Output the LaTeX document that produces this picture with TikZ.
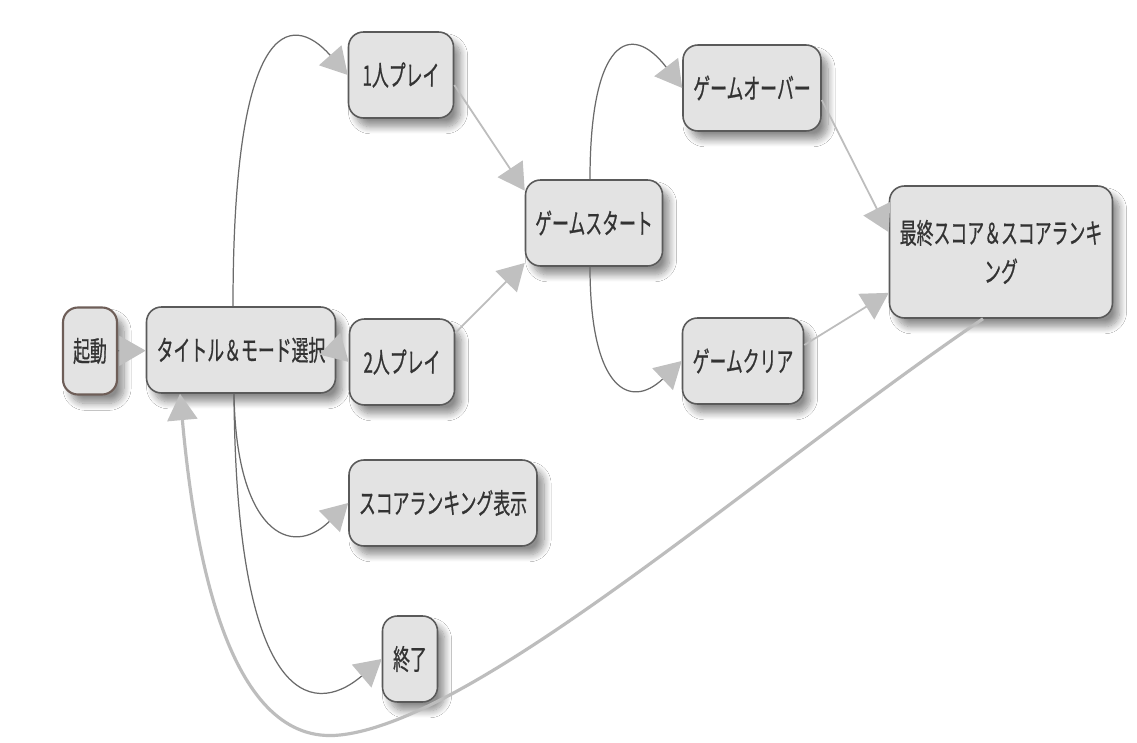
\documentclass[tikz,border=0pt]{standalone}
\usepackage{fontspec}
\newfontfamily\jp[FakeStretch=0.6,FakeBold=0.6]{Noto Sans CJK JP}
\usetikzlibrary{arrows.meta,shadows.blur}
\definecolor{boxfill}{HTML}{E3E3E3}
\definecolor{boxdraw}{HTML}{5A5A5A}
\definecolor{startdraw}{HTML}{6E5E58}
\definecolor{tipgray}{HTML}{C0C0C0}
\definecolor{darkline}{HTML}{6A6A6A}
\definecolor{lightline}{HTML}{BDBDBD}
\definecolor{txt}{HTML}{333333}
\begin{document}
\begin{tikzpicture}[x=0.02cm,y=-0.02cm,
  box/.style={draw=boxdraw, line width=0.9pt, fill=boxfill, rounded corners=8.5pt,
    inner sep=0pt, minimum height=1.72cm, font=\jp\fontsize{16}{22}\selectfont,
    text=txt, align=center,
    blur shadow={shadow xshift=4pt, shadow yshift=-5pt, shadow blur radius=4pt, shadow blur steps=10, shadow opacity=45}},
  tip/.style={-{Triangle[length=15pt,width=17pt,color=tipgray,fill=tipgray]}},
  dk/.style={tip, draw=darkline, line width=0.7pt},
  lt/.style={tip, draw=lightline, line width=1pt},
  big/.style={tip, draw=lightline, line width=1.8pt}]
\useasboundingbox[fill=white] (0,0) rectangle (1137,743);

\node[box, draw=startdraw, line width=1.2pt, minimum width=1.08cm, minimum height=1.74cm] (boot) at (90,351) {起動};
\node[box, minimum width=3.78cm] (title) at (241,350) {タイトル＆モード選択};
\node[box, minimum width=2.1cm] (p1) at (401,75) {1人プレイ};
\node[box, minimum width=2.1cm] (p2) at (402,362) {2人プレイ};
\node[box, minimum width=3.76cm] (rank) at (443,503) {スコアランキング表示};
\node[box, minimum width=1.1cm] (quit) at (410,659) {終了};
\node[box, minimum width=2.74cm] (gs) at (594,223) {ゲームスタート};
\node[box, minimum width=2.76cm] (go) at (752,88) {ゲームオーバー};
\node[box, minimum width=2.42cm] (gc) at (743,361) {ゲームクリア};
\node[box, minimum width=4.46cm, minimum height=2.64cm] (fin) at (1001,252) {最終スコア＆スコアランキ\\ング};

\draw[dk] (boot) -- (title);
\draw[dk] ([xshift=-0.16cm]title.north) .. controls (233,20) and (290,10) .. (p1.west);
\draw[lt] (title.east) -- (p2.west);
\draw[dk] ([xshift=-0.14cm]title.south) .. controls (236,530) and (290,560) .. (rank.west);
\draw[dk] ([xshift=-0.14cm]title.south) .. controls (236,700) and (310,720) .. (quit.west);
\draw[lt] ([yshift=-0.2cm]p1.east) -- (gs.155);
\draw[lt] ([yshift=0.58cm]p2.east) -- (gs.210);
\draw[dk] ([xshift=-0.08cm]gs.north) .. controls (590,40) and (630,20) .. (go.west);
\draw[dk] ([xshift=-0.08cm]gs.south) .. controls (590,390) and (630,410) .. (gc.west);
\draw[lt] ([yshift=-0.24cm]go.east) -- (fin.170);
\draw[lt] ([yshift=0.32cm]gc.east) -- (fin.200);
\draw[big] ([xshift=-0.36cm]fin.south) .. controls (760,470) and (480,720) .. (340,735)
  .. controls (230,747) and (195,560) .. ([xshift=-1.22cm]title.south);
\end{tikzpicture}
\end{document}
